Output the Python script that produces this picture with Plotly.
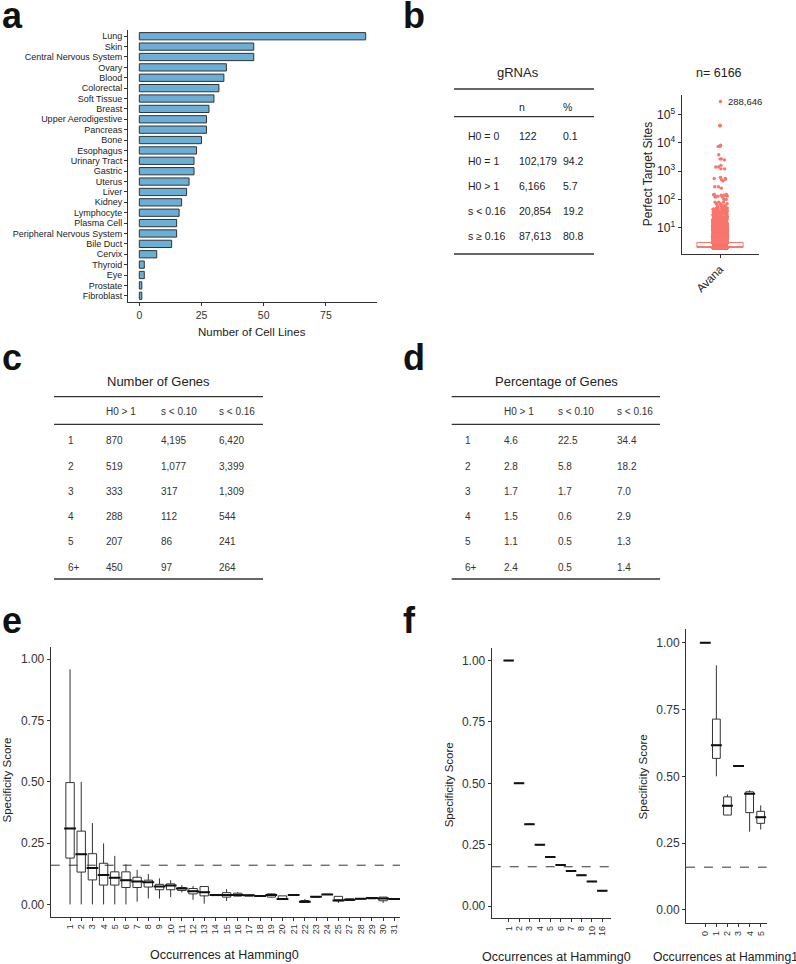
import numpy as np
import plotly.graph_objects as go

W, H = 796, 964
FONT = "Liberation Sans, Arial, Helvetica, sans-serif"
INK = "#222222"
AX = "#333333"

# ---------------- data ----------------
# panel a
tissues = ["Lung", "Skin", "Central Nervous System", "Ovary", "Blood", "Colorectal",
           "Soft Tissue", "Breast", "Upper Aerodigestive", "Pancreas", "Bone", "Esophagus",
           "Urinary Tract", "Gastric", "Uterus", "Liver", "Kidney", "Lymphocyte",
           "Plasma Cell", "Peripheral Nervous System", "Bile Duct", "Cervix", "Thyroid",
           "Eye", "Prostate", "Fibroblast"]
cell_lines = [91, 46, 46, 35, 34, 32, 30, 28, 27, 27, 25, 23, 22, 22, 20, 19, 17, 16,
              15, 15, 13, 7, 2, 2, 1, 1]

# panel b table
grna_header = ["n", "%"]
grna_rows = ["H0 = 0", "H0 = 1", "H0 > 1", "s < 0.16", "s \u2265 0.16"]
grna_n = ["122", "102,179", "6,166", "20,854", "87,613"]
grna_pct = ["0.1", "94.2", "5.7", "19.2", "80.8"]

# panel b box/jitter (perfect target sites for gRNAs with H0 > 1)
target_values = [2, 3, 4, 5, 6, 7, 8, 9, 10, 12, 14, 16, 18, 20, 24, 28, 32, 36, 40,
                 45, 50, 60, 70, 80, 100, 120, 130, 140, 150, 250, 280, 450, 500, 550,
                 600, 1200, 1400, 1600, 2500, 2700, 3800, 7500, 8200, 40000, 42000, 288646]
target_counts = [3495, 1300, 350, 200, 150, 100, 80, 60, 50, 70, 50, 40, 30, 25, 25, 20,
                 15, 12, 10, 8, 6, 4, 3, 3, 2, 2, 3, 4, 3, 1, 2, 1, 2, 2, 1, 2, 2, 1,
                 1, 2, 1, 2, 1, 2, 1, 1]
target_label = "288,646"

# panels c / d
gene_header = ["H0 > 1", "s < 0.10", "s < 0.16"]
gene_rows = ["1", "2", "3", "4", "5", "6+"]
genes_h0 = ["870", "519", "333", "288", "207", "450"]
genes_s10 = ["4,195", "1,077", "317", "112", "86", "97"]
genes_s16 = ["6,420", "3,399", "1,309", "544", "241", "264"]
pct_h0 = ["4.6", "2.8", "1.7", "1.5", "1.1", "2.4"]
pct_s10 = ["22.5", "5.8", "1.7", "0.6", "0.5", "0.5"]
pct_s16 = ["34.4", "18.2", "7.0", "2.9", "1.3", "1.4"]

# panel e
e_cats = [str(i) for i in range(1, 26)] + ["27", "28", "29", "30", "31"]
e_low = [0, 0, 0, 0, 0, 0, 0.011, 0.024, 0.024, 0.03, 0.049, 0.019, 0.003, 0.035, 0.014,
         0.033, 0.033, 0.033, 0.028, 0.019, 0.038, 0.008, 0.031, 0.041, 0.006, 0.016,
         0.023, 0.022, 0.006, 0.022]
e_q1 = [0.189, 0.132, 0.1, 0.079, 0.079, 0.069, 0.069, 0.071, 0.06, 0.06, 0.057, 0.043,
        0.035, 0.036, 0.03, 0.034, 0.034, 0.033, 0.03, 0.02, 0.038, 0.008, 0.031, 0.041,
        0.015, 0.016, 0.023, 0.023, 0.015, 0.022]
e_med = [0.31, 0.205, 0.149, 0.12, 0.109, 0.099, 0.094, 0.09, 0.073, 0.077, 0.065, 0.054,
         0.05, 0.038, 0.039, 0.039, 0.037, 0.034, 0.038, 0.022, 0.038, 0.011, 0.031, 0.041,
         0.016, 0.019, 0.023, 0.026, 0.024, 0.022]
e_q3 = [0.497, 0.299, 0.207, 0.168, 0.133, 0.133, 0.111, 0.099, 0.082, 0.084, 0.069, 0.065,
        0.073, 0.04, 0.048, 0.046, 0.038, 0.035, 0.043, 0.035, 0.038, 0.016, 0.031, 0.041,
        0.033, 0.023, 0.023, 0.027, 0.030, 0.022]
e_high = [0.959, 0.5, 0.332, 0.249, 0.198, 0.164, 0.141, 0.124, 0.106, 0.099, 0.079, 0.075,
          0.073, 0.041, 0.0625, 0.05, 0.04, 0.036, 0.045, 0.035, 0.038, 0.022, 0.031, 0.041,
          0.033, 0.023, 0.023, 0.027, 0.030, 0.022]

# panel f (left): Hamming0 occurrences
f0_cats = ["1", "2", "3", "4", "5", "6", "7", "8", "10", "16"]
f0_score = [1.0, 0.5, 0.333, 0.25, 0.2, 0.167, 0.143, 0.125, 0.1, 0.0625]

# panel f (right): Hamming1 occurrences
f1_cats = ["0", "1", "2", "3", "4", "5"]
f1_low = [1.0, 0.5, 0.355, 0.539, 0.293, 0.301]
f1_q1 = [1.0, 0.567, 0.355, 0.539, 0.364, 0.324]
f1_med = [1.0, 0.616, 0.39, 0.539, 0.435, 0.347]
f1_q3 = [1.0, 0.714, 0.423, 0.539, 0.442, 0.369]
f1_high = [1.0, 0.915, 0.432, 0.539, 0.448, 0.391]

threshold = 0.16


# ---------------- helpers ----------------
def PX(x):
    return x / W


def PY(y):
    return 1 - y / H


def axis(**kw):
    d = dict(showline=True, linecolor=AX, linewidth=1, ticks="outside", ticklen=3,
             tickwidth=1, tickcolor=AX, showgrid=False, zeroline=False,
             tickfont=dict(family=FONT, size=12, color=AX), fixedrange=True)
    d.update(kw)
    return d


annotations = []
shapes = []


def text(x, y, s, size=10, xanchor="left", color=INK, bold=False, angle=0):
    annotations.append(dict(
        x=PX(x), y=PY(y), xref="paper", yref="paper", text=(f"<b>{s}</b>" if bold else s),
        showarrow=False, xanchor=xanchor, yanchor="middle", textangle=angle,
        font=dict(family=FONT, size=size, color=color)))


def rule(x0, x1, y, width=1.3):
    shapes.append(dict(type="line", xref="paper", yref="paper", x0=PX(x0), x1=PX(x1),
                       y0=PY(y), y1=PY(y), line=dict(color=AX, width=width)))


fig = go.Figure()

# ---------------- panel a ----------------
fig.add_trace(go.Bar(x=cell_lines, y=tissues, orientation="h", width=0.7,
                     marker=dict(color="#6BAED6", line=dict(color="#333333", width=1)),
                     xaxis="x", yaxis="y", hoverinfo="skip"))

# ---------------- panel b (box + jitter) ----------------
sites = np.repeat(np.array(target_values, dtype=float), target_counts)
fig.add_trace(go.Box(y=sites, x=["Avana"] * len(sites), boxpoints="all", jitter=0.32,
                     pointpos=0, width=0.72, whiskerwidth=0,
                     marker=dict(color="#F8766D", size=3.4, opacity=1),
                     line=dict(color="#F8766D", width=1), fillcolor="rgba(0,0,0,0)",
                     xaxis="x2", yaxis="y2", hoverinfo="skip"))

# ---------------- panel e ----------------
fig.add_trace(go.Box(x=e_cats, q1=e_q1, median=e_med, q3=e_q3, lowerfence=e_low,
                     upperfence=e_high, width=0.75, whiskerwidth=0, boxpoints=False,
                     line=dict(color="#333333", width=1), fillcolor="white",
                     xaxis="x3", yaxis="y3", hoverinfo="skip"))
fig.add_trace(go.Scatter(x=e_cats, y=e_med, mode="markers",
                         marker=dict(symbol="line-ew", size=8.4,
                                     line=dict(color="#111111", width=2)),
                         xaxis="x3", yaxis="y3", hoverinfo="skip"))

# ---------------- panel f left ----------------
fig.add_trace(go.Box(x=f0_cats, q1=f0_score, median=f0_score, q3=f0_score,
                     lowerfence=f0_score, upperfence=f0_score, width=0.72, whiskerwidth=0,
                     boxpoints=False, line=dict(color="#333333", width=1), fillcolor="white",
                     xaxis="x4", yaxis="y4", hoverinfo="skip"))
fig.add_trace(go.Scatter(x=f0_cats, y=f0_score, mode="markers",
                         marker=dict(symbol="line-ew", size=7.5,
                                     line=dict(color="#111111", width=2)),
                         xaxis="x4", yaxis="y4", hoverinfo="skip"))

# ---------------- panel f right ----------------
fig.add_trace(go.Box(x=f1_cats, q1=f1_q1, median=f1_med, q3=f1_q3, lowerfence=f1_low,
                     upperfence=f1_high, width=0.7, whiskerwidth=0, boxpoints=False,
                     line=dict(color="#333333", width=1), fillcolor="white",
                     xaxis="x5", yaxis="y5", hoverinfo="skip"))
fig.add_trace(go.Scatter(x=f1_cats, y=f1_med, mode="markers",
                         marker=dict(symbol="line-ew", size=7.8,
                                     line=dict(color="#111111", width=2)),
                         xaxis="x5", yaxis="y5", hoverinfo="skip"))

# dashed threshold lines
for ax in ["3", "4", "5"]:
    shapes.append(dict(type="line", xref=f"x{ax} domain", yref=f"y{ax}", x0=0, x1=1,
                       y0=threshold, y1=threshold,
                       line=dict(color="#333333", width=1, dash="dash")))

# ---------------- tables ----------------
# panel b table
text(518, 73, "gRNAs", size=13, xanchor="center")
rule(454, 594, 89)
rule(454, 594, 116.7)
rule(454, 594, 254)
text(517.3, 107, grna_header[0], size=10.5)
text(561.3, 107, grna_header[1], size=10.5)
for i, yy in enumerate([135.7, 161.3, 185.7, 210.7, 235.7]):
    text(465.7, yy, grna_rows[i], size=10.5)
    text(517.3, yy, grna_n[i], size=10.5)
    text(561.3, yy, grna_pct[i], size=10.5)

row_y = [441, 466.7, 491.7, 516.7, 541.7, 567.3]
# panel c
text(158, 381.7, "Number of Genes", size=13, xanchor="center")
rule(54, 263, 396.7)
rule(54, 263, 424.3)
rule(54, 263, 579)
for j, xx in enumerate([104.3, 158.7, 217.3]):
    text(xx, 411.7, gene_header[j], size=10, color="#333333")
for i, yy in enumerate(row_y):
    text(65.7, yy, gene_rows[i], size=10, color="#333333")
    text(104.3, yy, genes_h0[i], size=10, color="#333333")
    text(158.7, yy, genes_s10[i], size=10, color="#333333")
    text(217.3, yy, genes_s16[i], size=10, color="#333333")

# panel d
text(556.7, 381.7, "Percentage of Genes", size=13, xanchor="center")
rule(451.7, 660, 396.7)
rule(451.7, 660, 424.3)
rule(451.7, 660, 579)
for j, xx in enumerate([501.7, 556, 615]):
    text(xx, 411.7, gene_header[j], size=10, color="#333333")
for i, yy in enumerate(row_y):
    text(463.3, yy, gene_rows[i], size=10, color="#333333")
    text(501.7, yy, pct_h0[i], size=10, color="#333333")
    text(556, yy, pct_s10[i], size=10, color="#333333")
    text(615, yy, pct_s16[i], size=10, color="#333333")

# ---------------- titles / labels ----------------
text(252, 332.3, "Number of Cell Lines", size=11.5, xanchor="center")
text(719, 73, "n= 6166", size=12.5, xanchor="center")
text(648.3, 174, "Perfect Target Sites", size=12, xanchor="center", angle=-90)
annotations.append(dict(x="Avana", y=np.log10(target_values[-1]), xref="x2", yref="y2",
                        text=target_label, showarrow=False, xanchor="left", yanchor="middle",
                        xshift=6, font=dict(family=FONT, size=9.5, color=INK)))

text(6.5, 780, "Specificity Score", size=11.5, xanchor="center", angle=-90)
text(225, 955, "Occurrences at Hamming0", size=12.5, xanchor="center")
text(449.3, 785, "Specificity Score", size=11.5, xanchor="center", angle=-90)
text(556.5, 956.7, "Occurrences at Hamming0", size=12.5, xanchor="center")
text(642.7, 776.7, "Specificity Score", size=11.5, xanchor="center", angle=-90)
text(725.5, 956.7, "Occurrences at Hamming1", size=12.2, xanchor="center")

# panel letters
for letter, x, y in [("a", -0.5, 15.5), ("b", 401, 15.5), ("c", -0.5, 357.5), ("d", 401, 357.5),
                     ("e", -0.5, 620.5), ("f", 401, 620.5)]:
    text(x, y, letter, size=36, bold=True, color="#111111")

yt = [0, 0.25, 0.5, 0.75, 1.0]
ytt = ["0.00", "0.25", "0.50", "0.75", "1.00"]

fig.update_layout(
    width=W, height=H, margin=dict(l=0, r=0, t=0, b=0), autosize=False,
    paper_bgcolor="white", plot_bgcolor="white", showlegend=False,
    font=dict(family=FONT, color=INK),
    xaxis=axis(domain=[PX(128), PX(377)], anchor="y", range=[-4.55, 95.55],
               tickvals=[0, 25, 50, 75], tickfont=dict(family=FONT, size=10.5, color=AX)),
    yaxis=axis(domain=[PY(302), PY(30)], anchor="x", type="category",
               categoryorder="array", categoryarray=tissues, range=[25.6, -0.6],
               tickvals=tissues, tickfont=dict(family=FONT, size=9, color=INK)),
    xaxis2=axis(domain=[PX(681.5), PX(758.5)], anchor="y2", type="category",
                range=[-0.6, 0.6], tickangle=-45,
                tickfont=dict(family=FONT, size=11.5, color=INK)),
    yaxis2=axis(domain=[PY(254), PY(95)], anchor="x2", type="log", range=[0.07, 5.69],
                tickvals=[10, 100, 1000, 10000, 100000],
                ticktext=["10<sup>1</sup>", "10<sup>2</sup>", "10<sup>3</sup>",
                          "10<sup>4</sup>", "10<sup>5</sup>"],
                tickfont=dict(family=FONT, size=12, color=INK)),
    xaxis3=axis(domain=[PX(50.7), PX(400)], anchor="y3", type="category",
                categoryorder="array", categoryarray=e_cats, range=[-1.73, 29.51],
                tickvals=e_cats, tickangle=-90, tickfont=dict(family=FONT, size=9, color=AX)),
    yaxis3=axis(domain=[PY(916.7), PY(647)], anchor="x3", range=[-0.05, 1.05],
                tickvals=yt, ticktext=ytt),
    xaxis4=axis(domain=[PX(491.7), PX(611)], anchor="y4", type="category",
                categoryorder="array", categoryarray=f0_cats, range=[-1.63, 9.84],
                tickvals=f0_cats, tickangle=-90, tickfont=dict(family=FONT, size=9, color=AX)),
    yaxis4=axis(domain=[PY(918.3), PY(648.3)], anchor="x4", range=[-0.05, 1.05],
                tickvals=yt, ticktext=ytt),
    xaxis5=axis(domain=[PX(686), PX(766.7)], anchor="y5", type="category",
                categoryorder="array", categoryarray=f1_cats, range=[-1.74, 5.54],
                tickvals=f1_cats, tickangle=-90, tickfont=dict(family=FONT, size=9, color=AX)),
    yaxis5=axis(domain=[PY(923.3), PY(629.3)], anchor="x5", range=[-0.05, 1.05],
                tickvals=yt, ticktext=ytt),
    annotations=annotations,
    shapes=shapes,
)

fig.write_html("out.html", config={"displayModeBar": False, "staticPlot": True},
               post_script="document.body.style.margin='0';"
                           "document.body.style.overflow='hidden';")
